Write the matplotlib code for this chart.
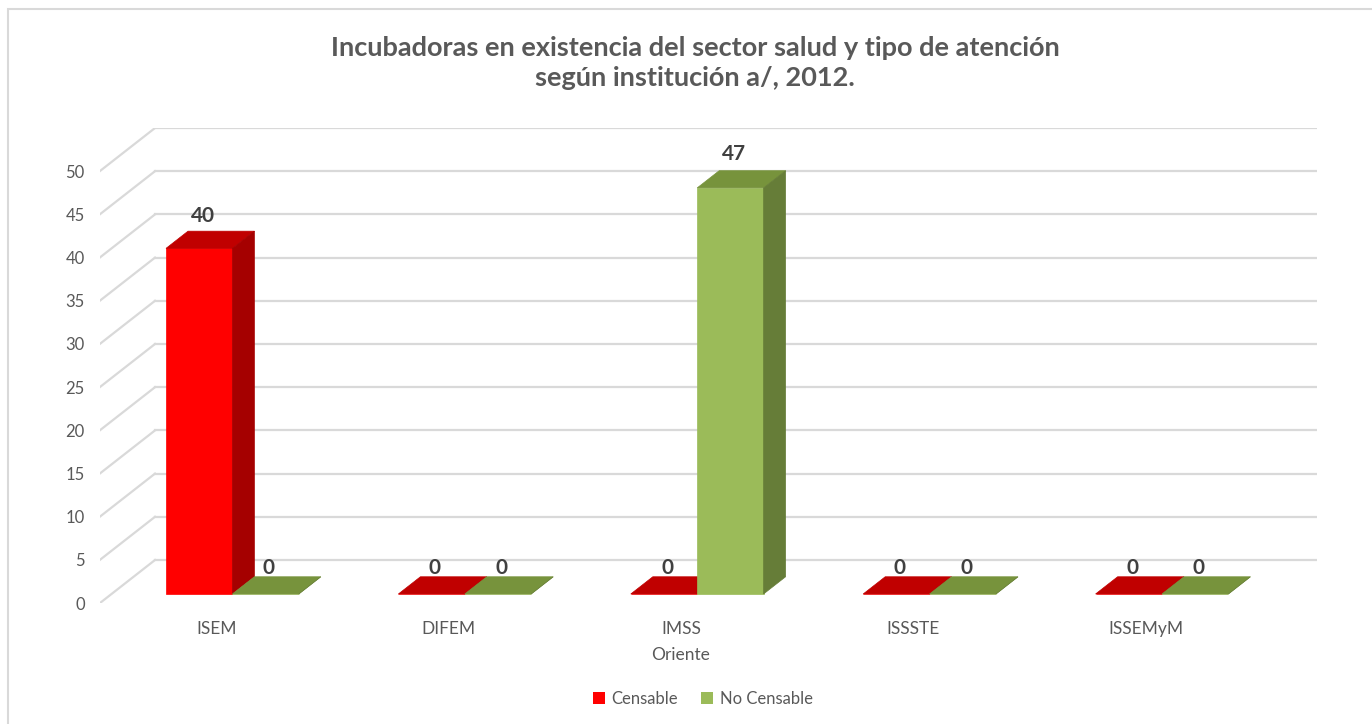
import matplotlib.pyplot as plt
from matplotlib.patches import Polygon, Rectangle, Patch

plt.rcParams['font.family'] = ['Lato', 'DejaVu Sans']

# data
instituciones = ['ISEM', 'DIFEM', 'IMSS\nOriente', 'ISSSTE', 'ISSEMyM']
censable = [40, 0, 0, 0, 0]
no_censable = [0, 0, 47, 0, 0]
series_names = ['Censable', 'No Censable']
yticks = list(range(0, 51, 5))

# colours: front, top, side
red = ('#ff0000', '#c00000', '#a50000')
green = ('#9bbb59', '#77933c', '#667d38')
grid_c = '#d9d9d9'
text_c = '#595959'

# fake 3d geometry (depth offset in data units)
DX = 0.2367
DY = 4.977
d0, d1 = 0.21, 0.61
bw = 0.2857

fig = plt.figure(figsize=(13.72, 7.24), dpi=100)
W, H = 1372, 724
ax = fig.add_axes([100 / W, 121 / H, 1217 / W, 475 / H])
ax.set_xlim(0, len(instituciones) + DX)
ax.set_ylim(0, 50 + DY)
for s in ax.spines.values():
    s.set_visible(False)


def pt(x, y, d):
    return (x + d * DX, y + d * DY)


# walls
for v in yticks:
    ax.plot([0, DX], [v, v + DY], color=grid_c, lw=1.6, zorder=1)
    ax.plot([DX, len(instituciones) + DX], [v + DY, v + DY], color=grid_c, lw=1.6, zorder=1)


def bar3d(xl, h, cols):
    front, top, side = cols
    faces = [
        ([pt(xl, 0, d0), pt(xl + bw, 0, d0), pt(xl + bw, h, d0), pt(xl, h, d0)], front),
        ([pt(xl, h, d0), pt(xl + bw, h, d0), pt(xl + bw, h, d1), pt(xl, h, d1)], top),
        ([pt(xl + bw, 0, d0), pt(xl + bw, 0, d1), pt(xl + bw, h, d1), pt(xl + bw, h, d0)], side),
    ]
    for verts, c in faces:
        ax.add_patch(Polygon(verts, closed=True, facecolor=c, edgecolor=c, lw=0.5, zorder=3))
    lx, ly = pt(xl + bw / 2, h, 0.27)
    ax.text(lx, h + d1 * DY - 0.2 + 0.02 * h, str(h), ha='center', va='bottom', fontsize=15,
            fontweight='bold', color='#404040', zorder=5)


for i in range(len(instituciones)):
    c = i + 0.52
    bar3d(c - bw, censable[i], red)
    bar3d(c, no_censable[i], green)

ax.set_yticks(yticks)
ax.set_yticklabels([str(v) for v in yticks])
ax.set_xticks([i + 0.5 for i in range(len(instituciones))])
ax.set_xticklabels(instituciones, linespacing=1.75)
ax.tick_params(axis='y', length=0, pad=11, labelsize=12, labelcolor=text_c)
ax.tick_params(axis='x', length=0, pad=13, labelsize=12.5, labelcolor=text_c)

fig.text(695 / W, 1 - 63 / H,
         'Incubadoras en existencia del sector salud y tipo de atención\nsegún institución a/, 2012.',
         ha='center', va='center', fontsize=19.5, fontweight='bold', color=text_c, linespacing=1.3)

handles = [Patch(facecolor=red[0]), Patch(facecolor=green[0])]
fig.legend(handles, series_names, loc='center', bbox_to_anchor=(703 / W, 1 - 699 / H), ncol=2,
           frameon=False, fontsize=12, labelcolor=text_c, handlelength=0.7, handleheight=0.7,
           handletextpad=0.4, columnspacing=1.4)

# chart border
fig.patches.append(Rectangle((8 / W, -0.1), 1.2, 1 - 9 / H + 0.1, transform=fig.transFigure,
                             fill=False, edgecolor='#d9d9d9', lw=1.5))

fig.savefig('out.png', dpi=100)
